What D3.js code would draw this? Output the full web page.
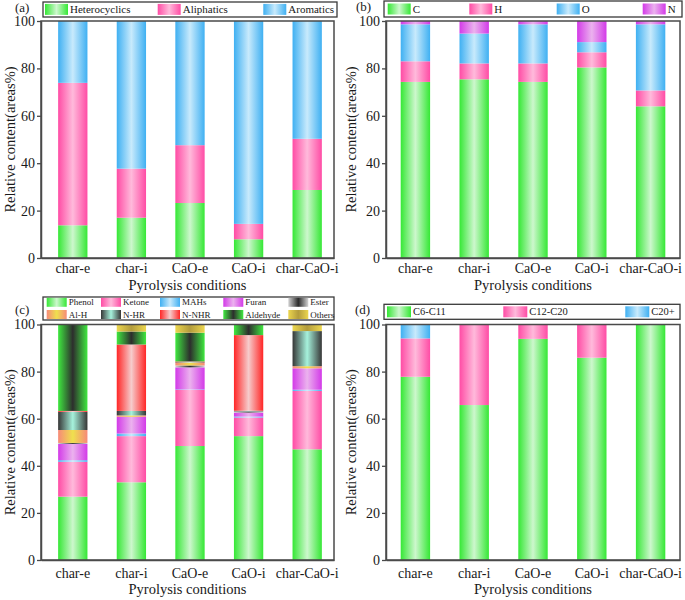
<!DOCTYPE html>
<html><head><meta charset="utf-8">
<script src="https://cdn.jsdelivr.net/npm/d3@7"></script>
<style>
body{margin:0;background:#fff}
svg{display:block}
text{font-family:"Liberation Serif","Times New Roman",serif;fill:#1a1a1a}
</style>
</head><body><svg id="chart" width="685" height="600"></svg>
<script>
// ---------------- DATA ----------------
const categories = ["char-e", "char-i", "CaO-e", "CaO-i", "char-CaO-i"];
const yTicks = [0, 20, 40, 60, 80, 100];

// (a) compound classes
const heterocyclics = [13.8, 17.0, 23.2, 7.9, 28.7];
const aliphatics    = [60.1, 20.7, 24.4, 6.5, 21.6];
const aromatics     = [26.1, 62.3, 52.4, 85.6, 49.7];

// (b) elements
const elemC = [74.3, 75.4, 74.3, 80.4, 64.0];
const elemH = [8.7, 6.7, 7.8, 6.4, 6.7];
const elemO = [15.6, 12.6, 16.5, 4.3, 27.9];
const elemN = [1.4, 5.3, 1.4, 8.9, 1.4];

// (c) functional groups
const phenol   = [26.9, 33.0, 48.4, 52.6, 47.0];
const ketone   = [14.8, 19.6, 23.8, 7.9, 24.8];
const mahs     = [0.7, 1.1, 0.2, 0.4, 0.5];
const furan    = [6.9, 7.1, 9.4, 1.7, 9.1];
const ester    = [0.4, 0.0, 0.8, 0.5, 0.0];
const alh      = [5.5, 0.6, 1.2, 0.0, 0.9];
const nhr      = [7.7, 1.9, 0.2, 0.3, 14.9];
const nnhr     = [0.4, 28.2, 0.3, 32.1, 0.0];
const aldehyde = [36.7, 5.5, 12.2, 4.5, 0.0];
const others   = [0.0, 3.0, 3.5, 0.0, 2.8];

// (d) carbon number
const c6c11  = [77.8, 65.8, 93.9, 85.9, 100];
const c12c20 = [16.3, 34.2, 6.1, 14.1, 0];
const c20p   = [5.9, 0, 0, 0, 0];

// ---------------- STYLE ----------------
const grads = {
  green:   ["#35e835", "#cdf7cd"],
  pink:    ["#ff4ca5", "#ffbadb"],
  blue:    ["#3fb0f2", "#c8eafc"],
  magenta: ["#d33ae8", "#ebb2ee"],
  ester:   ["#d4d4d4", "#2b2b2b"],
  alh:     ["#f68a78", "#efe04e"],
  nhr:     ["#363636", "#a6f2dc"],
  nnhr:    ["#ff2626", "#f6cccc"],
  ald:     ["#3fe83f", "#2d2d2d"],
  others:  ["#ecd64e", "#b39c3c"]
};

const svg = d3.select("#chart");
const defs = svg.append("defs");
Object.entries(grads).forEach(([k, [edge, mid]]) => {
  const g = defs.append("linearGradient").attr("id", "g-" + k)
    .attr("x1", 0).attr("x2", 1).attr("y1", 0).attr("y2", 0);
  g.append("stop").attr("offset", "0%").attr("stop-color", edge);
  g.append("stop").attr("offset", "50%").attr("stop-color", mid);
  g.append("stop").attr("offset", "100%").attr("stop-color", edge);
});

const panels = [
  {
    label: "(a)", labelPos: [15, 11.5],
    box: {x0: 41, x1: 334, y0: 21, y1: 258}, align: 0.585,
    tickLabelOff: 15, titleY: 290, ytitleX: 10,
    series: [
      {name: "Heterocyclics", values: heterocyclics, g: "green"},
      {name: "Aliphatics", values: aliphatics, g: "pink"},
      {name: "Aromatics", values: aromatics, g: "blue"}
    ],
    legend: {box: [43, 2, 337, 17], xs: [45, 157.7, 263.3], rows: [9.4], cols: 3, sw: 23, sh: 11, fs: 11}
  },
  {
    label: "(b)", labelPos: [356, 10.5],
    box: {x0: 386, x1: 680, y0: 21, y1: 258}, align: 0.5,
    tickLabelOff: 15, titleY: 290, ytitleX: 351,
    series: [
      {name: "C", values: elemC, g: "green"},
      {name: "H", values: elemH, g: "pink"},
      {name: "O", values: elemO, g: "blue"},
      {name: "N", values: elemN, g: "magenta"}
    ],
    legend: {box: [384, 1, 682, 17], xs: [387.7, 469.3, 556.7, 642.7], rows: [9], cols: 4, sw: 23, sh: 11, fs: 11}
  },
  {
    label: "(c)", labelPos: [15, 314],
    box: {x0: 41, x1: 334, y0: 324.5, y1: 560}, align: 0.585,
    tickLabelOff: 18, titleY: 594, ytitleX: 10,
    series: [
      {name: "Phenol", values: phenol, g: "green"},
      {name: "Ketone", values: ketone, g: "pink"},
      {name: "MAHs", values: mahs, g: "blue"},
      {name: "Furan", values: furan, g: "magenta"},
      {name: "Ester", values: ester, g: "ester"},
      {name: "Al-H", values: alh, g: "alh"},
      {name: "N-HR", values: nhr, g: "nhr"},
      {name: "N-NHR", values: nnhr, g: "nnhr"},
      {name: "Aldehyde", values: aldehyde, g: "ald"},
      {name: "Others", values: others, g: "others"}
    ],
    legend: {box: [43, 297, 334, 320], xs: [46.7, 101, 160, 223.3, 288.3], rows: [302.3, 314.5], cols: 5, sw: 20, sh: 9, fs: 9}
  },
  {
    label: "(d)", labelPos: [355, 314],
    box: {x0: 386, x1: 680, y0: 324.5, y1: 560}, align: 0.5,
    tickLabelOff: 18, titleY: 594, ytitleX: 351,
    series: [
      {name: "C6-C11", values: c6c11, g: "green"},
      {name: "C12-C20", values: c12c20, g: "pink"},
      {name: "C20+", values: c20p, g: "blue"}
    ],
    legend: {box: [384, 304.3, 680, 319.3], xs: [387, 503.3, 625.3], rows: [311.8], cols: 3, sw: 24, sh: 11, fs: 10.5}
  }
];

const frameColor = "#4a4a4a";

panels.forEach(p => {
  const b = p.box;
  const x = d3.scaleBand().domain(categories).range([b.x0, b.x1])
    .paddingInner(0.5).paddingOuter(0.25).align(p.align);
  const y = d3.scaleLinear().domain([0, 100]).range([b.y1, b.y0]);

  const rows = categories.map((c, i) => {
    const r = {cat: c};
    p.series.forEach(s => r[s.name] = s.values[i]);
    return r;
  });
  const stack = d3.stack().keys(p.series.map(s => s.name))(rows);

  const g = svg.append("g");
  stack.forEach((layer, li) => {
    const s = p.series[li];
    g.append("g").selectAll("rect").data(layer.filter(d => d[1] - d[0] > 0)).join("rect")
      .attr("x", d => x(d.data.cat))
      .attr("width", x.bandwidth())
      .attr("y", d => y(d[1]))
      .attr("height", d => y(d[0]) - y(d[1]))
      .attr("fill", "url(#g-" + s.g + ")");
  });

  // frame
  g.append("rect").attr("x", b.x0).attr("y", b.y0)
    .attr("width", b.x1 - b.x0).attr("height", b.y1 - b.y0)
    .attr("fill", "none").attr("stroke", frameColor).attr("stroke-width", 1.5);

  // y axis
  const ya = g.append("g").attr("transform", `translate(${b.x0},0)`)
    .call(d3.axisLeft(y).tickValues(yTicks).tickSize(4).tickSizeOuter(0).tickPadding(2));
  ya.select(".domain").attr("stroke", frameColor).attr("stroke-width", 1.5);
  ya.selectAll(".tick line").attr("stroke", frameColor).attr("stroke-width", 1.3);
  ya.selectAll("text").attr("font-size", 14).attr("fill", "#1a1a1a")
    .style("font-family", '"Liberation Serif", serif');

  // x axis
  const xa = g.append("g").attr("transform", `translate(0,${b.y1})`)
    .call(d3.axisBottom(x).tickSize(0).tickSizeOuter(0));
  xa.select(".domain").attr("stroke", frameColor).attr("stroke-width", 1.5);
  xa.selectAll("text").attr("font-size", 14).attr("y", p.tickLabelOff).attr("dy", 0)
    .attr("fill", "#1a1a1a").style("font-family", '"Liberation Serif", serif');

  // titles
  g.append("text").attr("x", (b.x0 + b.x1) / 2).attr("y", p.titleY)
    .attr("text-anchor", "middle").attr("font-size", 14.5).text("Pyrolysis conditions");
  g.append("text").attr("transform", `translate(${p.ytitleX + 5},${(b.y0 + b.y1) / 2}) rotate(-90)`)
    .attr("text-anchor", "middle").attr("font-size", 14.5).text("Relative content(areas%)");

  // panel label
  g.append("text").attr("x", p.labelPos[0]).attr("y", p.labelPos[1])
    .attr("font-size", 13).text(p.label);

  // legend
  const L = p.legend;
  g.append("rect").attr("x", L.box[0]).attr("y", L.box[1])
    .attr("width", L.box[2] - L.box[0]).attr("height", L.box[3] - L.box[1])
    .attr("fill", "#fff").attr("stroke", "#3a3a3a").attr("stroke-width", 1.3);
  p.series.forEach((s, i) => {
    const col = i % L.cols, row = Math.floor(i / L.cols);
    const lx = L.xs[col], ly = L.rows[row];
    g.append("rect").attr("x", lx).attr("y", ly - L.sh / 2)
      .attr("width", L.sw).attr("height", L.sh).attr("fill", "url(#g-" + s.g + ")");
    g.append("text").attr("x", lx + L.sw + 2).attr("y", ly).attr("dy", "0.35em")
      .attr("font-size", L.fs).text(s.name);
  });
});
</script></body></html>
